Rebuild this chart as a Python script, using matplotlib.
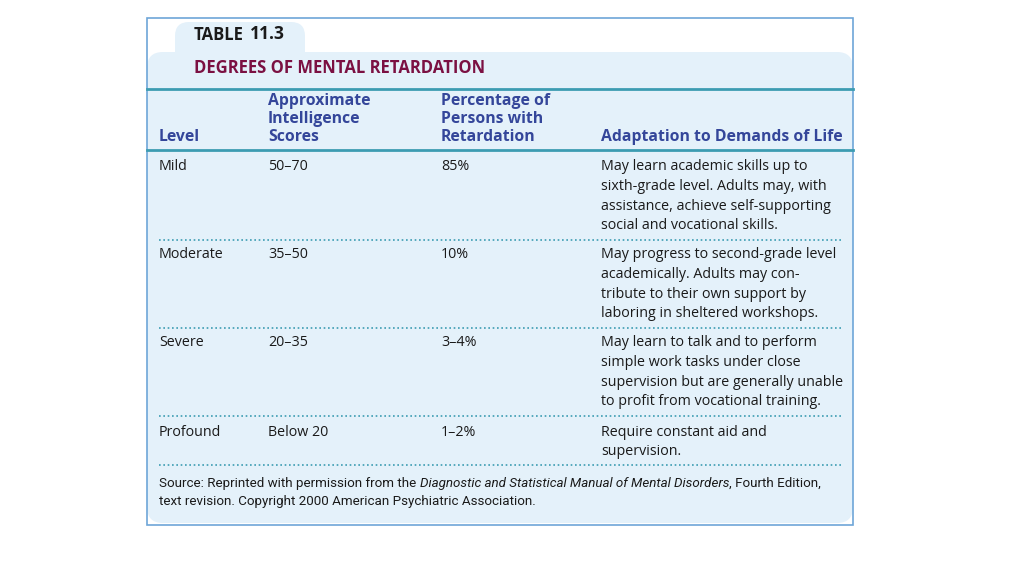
import matplotlib.pyplot as plt
from matplotlib.patches import FancyBboxPatch, Rectangle

# Table content
levels = ["Mild", "Moderate", "Severe", "Profound"]
scores = ["50\u201370", "35\u201350", "20\u201335", "Below 20"]
percentages = ["85%", "10%", "3\u20134%", "1\u20132%"]
adaptation = [
    ["May learn academic skills up to", "sixth-grade level. Adults may, with",
     "assistance, achieve self-supporting", "social and vocational skills."],
    ["May progress to second-grade level", "academically. Adults may con-",
     "tribute to their own support by", "laboring in sheltered workshops."],
    ["May learn to talk and to perform", "simple work tasks under close",
     "supervision but are generally unable", "to profit from vocational training."],
    ["Require constant aid and", "supervision."],
]
headers = [
    ["Level"],
    ["Approximate", "Intelligence", "Scores"],
    ["Percentage of", "Persons with", "Retardation"],
    ["Adaptation to Demands of Life"],
]
table_no = "11.3"
title = "DEGREES OF MENTAL RETARDATION"
source_parts = [
    ("Source: Reprinted with permission from the ", "normal"),
    ("Diagnostic and Statistical Manual of Mental Disorders", "italic"),
    (", Fourth Edition,", "normal"),
]
source_line2 = "text revision. Copyright 2000 American Psychiatric Association."

# Colours
panel = "#e4f1fa"
teal = "#3c9cb2"
navy = "#34469a"
maroon = "#7b1042"
text_c = "#1a1a1a"

FONT = ["Open Sans", "DejaVu Sans"]
NARROW = ["Roboto", "DejaVu Sans"]

fig = plt.figure(figsize=(10.24, 5.76), dpi=100)
ax = fig.add_axes([0, 0, 1, 1])
ax.set_xlim(0, 1024)
ax.set_ylim(576, 0)
ax.axis("off")

# background panels
ax.add_patch(FancyBboxPatch((175, 22), 130, 50, boxstyle="round,pad=0,rounding_size=14",
                            fc=panel, ec="none"))
ax.add_patch(FancyBboxPatch((147, 52), 706, 471, boxstyle="round,pad=0,rounding_size=16",
                            fc=panel, ec="none"))
ax.add_patch(Rectangle((147, 18), 706, 507, fc="none", ec="#6ea6d8", lw=1.2))

# title
ax.text(194, 35, "TABLE", fontsize=12, fontweight="bold", color=text_c,
        family=FONT, va="center")
ax.text(250, 34, table_no, fontsize=12.5, fontweight="bold", color=text_c,
        family=FONT, va="center")
ax.text(194, 68, title, fontsize=12, fontweight="bold", color=maroon,
        family=FONT, va="center")

# header
ax.plot([147, 853], [89, 89], color=teal, lw=2)
ax.plot([147, 853], [150, 150], color=teal, lw=2)
col_x = [159, 268, 441, 601]
for x, lines in zip(col_x, headers):
    n = len(lines)
    for i, s in enumerate(lines):
        ax.text(x, 137 - (n - 1 - i) * 18, s, fontsize=11.3, fontweight="bold",
                color=navy, family=FONT, va="center")

# body rows
row_y = [167, 255, 343, 432]
sep_y = [240, 328, 416, 465]
step = 19.6
for k in range(len(levels)):
    y0 = row_y[k]
    kw = dict(fontsize=10.3, fontweight="medium", color=text_c, family=FONT, va="center")
    ax.text(col_x[0], y0, levels[k], **kw)
    ax.text(col_x[1], y0, scores[k], **kw)
    ax.text(col_x[2], y0, percentages[k], **kw)
    for i, s in enumerate(adaptation[k]):
        ax.text(col_x[3], y0 + i * step, s, **kw)
    ax.plot([159, 841], [sep_y[k], sep_y[k]], color=teal, lw=1.2,
            linestyle=(0, (1, 1.6)))

# source note
fig.canvas.draw()
r = fig.canvas.get_renderer()
x = 159
for s, style in source_parts:
    t = ax.text(x, 483, s, fontsize=9.6, color=text_c, family=NARROW,
                style=style, va="center")
    bb = t.get_window_extent(renderer=r)
    x = x + bb.width
ax.text(159, 501, source_line2, fontsize=9.6, color=text_c, family=NARROW, va="center")

fig.savefig("out.png", dpi=100, facecolor="white")
